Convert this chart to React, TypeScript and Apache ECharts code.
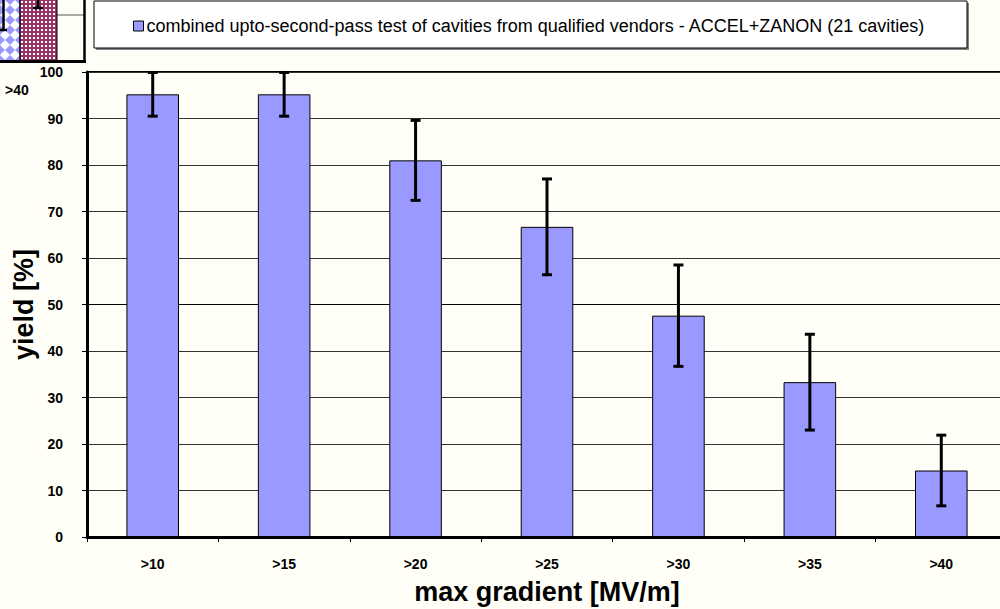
import React, { useEffect, useRef } from "react";
import * as echarts from "echarts";

const categories = [">10", ">15", ">20", ">25", ">30", ">35", ">40"];
const yieldValues = [95.2, 95.2, 81.0, 66.7, 47.6, 33.3, 14.3];
const yieldErrors = [4.7, 4.7, 8.6, 10.3, 10.9, 10.3, 7.6];
const yTicks = [0, 10, 20, 30, 40, 50, 60, 70, 80, 90, 100];
const seriesName =
  "combined upto-second-pass test of cavities from qualified vendors - ACCEL+ZANON (21 cavities)";

const FONT = "Arial, 'Liberation Sans', Helvetica, sans-serif";
const BG = "#FFFFF7";

const artifactSvg =
  `<svg xmlns="http://www.w3.org/2000/svg" width="88" height="64" viewBox="0 0 88 64">` +
  `<defs>` +
  `<pattern id="r" width="4" height="4" patternUnits="userSpaceOnUse"><rect width="4" height="4" fill="#993366"/><rect x="1" y="1" width="2" height="2" fill="#ffffff"/></pattern>` +
  `<pattern id="b" width="10" height="10" patternUnits="userSpaceOnUse"><rect width="10" height="10" fill="#9999ff"/><polygon points="5,0 10,5 5,10 0,5" fill="#ffffff"/></pattern>` +
  `</defs>` +
  `<rect x="0" y="0" width="88" height="64" fill="${BG}"/>` +
  `<line x1="57" y1="15" x2="84" y2="15" stroke="#555" stroke-width="1"/>` +
  `<rect x="-1" y="-2" width="21" height="63" fill="url(#b)" stroke="#000" stroke-width="1"/>` +
  `<rect x="20" y="-2" width="37" height="63" fill="url(#r)" stroke="#000" stroke-width="1"/>` +
  `<line x1="3.5" y1="0" x2="3.5" y2="30" stroke="#000" stroke-width="2.5"/>` +
  `<line x1="0" y1="30" x2="7" y2="30" stroke="#000" stroke-width="2.5"/>` +
  `<line x1="38" y1="0" x2="38" y2="8" stroke="#000" stroke-width="2.5"/>` +
  `<line x1="33" y1="8" x2="43" y2="8" stroke="#000" stroke-width="2.5"/>` +
  `<line x1="84.5" y1="0" x2="84.5" y2="62" stroke="#000" stroke-width="2.5"/>` +
  `<line x1="0" y1="61.5" x2="86" y2="61.5" stroke="#000" stroke-width="3"/>` +
  `</svg>`;

export default function App() {
  const ref = useRef<HTMLDivElement>(null);

  useEffect(() => {
    if (!ref.current) return;
    const chart = echarts.init(ref.current, undefined, { renderer: "svg" });

    const errorData = yieldValues.map((v, i) => [i, v - yieldErrors[i], v + yieldErrors[i]]);

    chart.setOption({
      animation: false,
      backgroundColor: BG,
      textStyle: { fontFamily: FONT },
      grid: {
        left: 87,
        top: 72,
        width: 920,
        height: 465,
        outerBoundsMode: "none",
        containLabel: false,
        show: true,
        borderColor: "#000",
        borderWidth: 2,
        backgroundColor: "transparent",
      },
      legend: {
        show: true,
        left: 133,
        top: 17,
        padding: 0,
        itemWidth: 10,
        itemHeight: 10,
        icon: "rect",
        data: [{ name: seriesName, itemStyle: { borderColor: "#000", borderWidth: 1 } }],
        textStyle: { fontSize: 18, color: "#000", fontFamily: FONT, padding: [0, 0, 0, -2] },
        selectedMode: false,
      },
      xAxis: {
        type: "category",
        data: categories,
        boundaryGap: true,
        axisLine: { show: true, lineStyle: { color: "#000", width: 3 } },
        axisTick: { show: true, length: 5, lineStyle: { color: "#000", width: 1 } },
        axisLabel: { fontSize: 14, fontWeight: "bold", color: "#000", margin: 20, fontFamily: FONT },
        name: "max gradient [MV/m]",
        nameLocation: "middle",
        nameGap: 55,
        nameMoveOverlap: false,
        nameTextStyle: {
          fontSize: 27,
          fontWeight: "bold",
          color: "#000",
          fontFamily: FONT,
          verticalAlign: "middle",
        },
        splitLine: { show: false },
      },
      yAxis: {
        type: "value",
        min: 0,
        max: 100,
        interval: 10,
        axisLine: { show: true, lineStyle: { color: "#000", width: 3 } },
        axisTick: { show: true, length: 5, lineStyle: { color: "#000", width: 1 } },
        axisLabel: {
          fontSize: 14,
          fontWeight: "bold",
          color: "#000",
          margin: 24,
          fontFamily: FONT,
          formatter: (v: number) => (yTicks.includes(v) ? String(v) : ""),
        },
        splitLine: { show: true, lineStyle: { color: "#333", width: 1 } },
        name: "yield [%]",
        nameLocation: "middle",
        nameGap: 63,
        nameMoveOverlap: false,
        nameRotate: 90,
        nameTextStyle: {
          fontSize: 27,
          fontWeight: "bold",
          color: "#000",
          fontFamily: FONT,
          verticalAlign: "middle",
        },
      },
      series: [
        {
          name: seriesName,
          type: "bar",
          data: yieldValues,
          barWidth: "40%",
          itemStyle: { color: "#9999FF", borderColor: "#000", borderWidth: 1 },
          markLine: {
            silent: true,
            symbol: "none",
            label: { show: false },
            lineStyle: { color: "#000", width: 1, type: "solid" },
            data: [{ yAxis: 50 }],
            z: 1,
          },
          z: 2,
        },
        {
          name: "err",
          type: "custom",
          data: errorData,
          z: 5,
          renderItem: (params: any, api: any) => {
            const i = api.value(0);
            const lo = api.coord([i, api.value(1)]);
            const hi = api.coord([i, api.value(2)]);
            const hw = 5;
            const st = { stroke: "#000", lineWidth: 3 };
            return {
              type: "group",
              children: [
                { type: "line", shape: { x1: lo[0], y1: lo[1], x2: hi[0], y2: hi[1] }, style: st },
                { type: "line", shape: { x1: lo[0] - hw, y1: lo[1], x2: lo[0] + hw, y2: lo[1] }, style: st },
                { type: "line", shape: { x1: hi[0] - hw, y1: hi[1], x2: hi[0] + hw, y2: hi[1] }, style: st },
              ],
            };
          },
        },
      ],
      graphic: [
        {
          type: "image",
          left: 0,
          top: 0,
          z: 0,
          style: {
            image: "data:image/svg+xml;charset=utf-8," + encodeURIComponent(artifactSvg),
            x: 0,
            y: 0,
            width: 88,
            height: 64,
          },
        },
        {
          type: "text",
          left: 5,
          top: 83,
          style: { text: ">40", fontSize: 14, fontWeight: "bold", fill: "#000", fontFamily: FONT },
        },
        {
          type: "rect",
          shape: { x: 96, y: 3, width: 873, height: 47 },
          style: { fill: "#808080" },
          z: -1,
        },
        {
          type: "rect",
          shape: { x: 94, y: 1, width: 873, height: 47 },
          style: { fill: "#ffffff", stroke: "#000", lineWidth: 1 },
          z: -1,
        },
      ],
    });

    return () => chart.dispose();
  }, []);

  return (
    <div
      ref={ref}
      style={{ position: "absolute", left: 0, top: 0, width: 1000, height: 609, overflow: "hidden" }}
    />
  );
}
